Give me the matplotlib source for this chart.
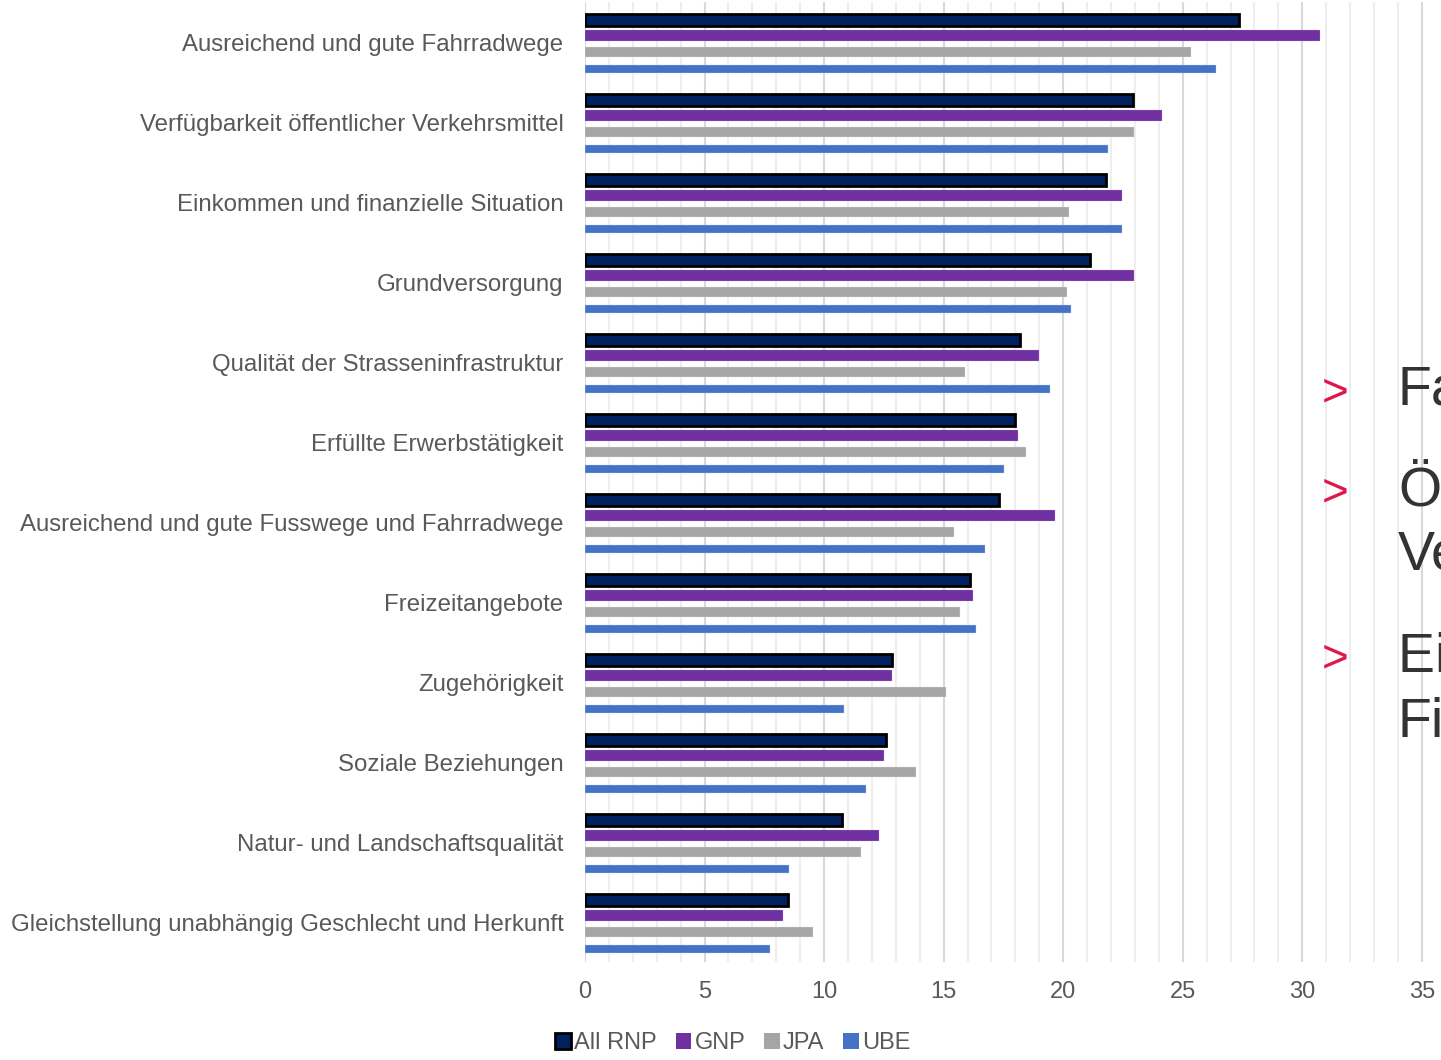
import matplotlib
matplotlib.use('Agg')
import matplotlib.pyplot as plt
from matplotlib.patches import Patch
import numpy as np

plt.rcParams['font.family'] = ['Liberation Sans', 'DejaVu Sans']

categories = [
    'Ausreichend und gute Fahrradwege',
    'Verfügbarkeit öffentlicher Verkehrsmittel',
    'Einkommen und finanzielle Situation',
    'Grundversorgung',
    'Qualität der Strasseninfrastruktur',
    'Erfüllte Erwerbstätigkeit',
    'Ausreichend und gute Fusswege und Fahrradwege',
    'Freizeitangebote',
    'Zugehörigkeit',
    'Soziale Beziehungen',
    'Natur- und Landschaftsqualität',
    'Gleichstellung unabhängig Geschlecht und Herkunft',
]
series_names = ['All RNP', 'GNP', 'JPA', 'UBE']
all_rnp = [27.35, 22.9, 21.8, 21.1, 18.2, 18.0, 17.3, 16.1, 12.85, 12.6, 10.75, 8.5]
gnp = [30.7, 24.1, 22.4, 22.9, 18.95, 18.05, 19.6, 16.2, 12.8, 12.45, 12.25, 8.25]
jpa = [25.3, 22.9, 20.2, 20.1, 15.85, 18.4, 15.4, 15.65, 15.05, 13.8, 11.5, 9.5]
ube = [26.35, 21.85, 22.4, 20.3, 19.4, 17.5, 16.7, 16.3, 10.8, 11.7, 8.5, 7.7]
# slide bullets lying over the chart (cut by the slide edge in the original)
side_points = ['Fahrradwege', 'Öffentlicher\nVerkehr', 'Einkommen und\nFinanzen']

values = [all_rnp, gnp, jpa, ube]
colors = ['#002060', '#7030A0', '#A5A5A5', '#4472C4']
edges = ['black', '#7A3FAA', '#AFAFAF', '#5A82C8']
lws = [2.0, 0.8, 0.8, 0.8]
offsets = [-0.275, -0.085, 0.115, 0.33]
heights = [0.14, 0.125, 0.115, 0.095]

fig = plt.figure(figsize=(14.41, 10.6), dpi=100)
ax = fig.add_axes([585 / 1441, 1 - 962 / 1060, 1 - 585 / 1441, 960 / 1060])

y = np.arange(len(categories))
for i, name in enumerate(series_names):
    ax.barh(y + offsets[i], values[i], height=heights[i], color=colors[i],
            edgecolor=edges[i], linewidth=lws[i], zorder=3, label=name)

ax.set_xlim(0, (1441 - 585) / 23.91)
ax.set_ylim(len(categories) - 0.5, -0.5)
ax.set_xticks(np.arange(0, 36, 5))
ax.set_xticks(np.arange(0, 36, 1), minor=True)
ax.grid(axis='x', which='minor', color='#EEEEEE', linewidth=1.5, zorder=0)
ax.grid(axis='x', which='major', color='#D9D9D9', linewidth=1.5, zorder=1)
ax.set_yticks(y)
ax.set_yticklabels(categories, fontsize=17.3, color='#595959')
ax.tick_params(axis='y', length=0, pad=15.5)
ax.tick_params(axis='x', which='both', length=0, pad=14, labelsize=17, labelcolor='#595959')
for s in ax.spines.values():
    s.set_visible(False)

handles = [Patch(facecolor=colors[i], edgecolor='black' if i == 0 else colors[i],
                 linewidth=lws[i] if i == 0 else 0) for i in range(4)]
fig.legend(handles, series_names, loc='center', bbox_to_anchor=(733 / 1441, 1 - 1043 / 1060),
           ncol=4, frameon=False, fontsize=17, handlelength=0.65, handleheight=0.65,
           handletextpad=0.15, columnspacing=0.8, labelcolor='#595959')

text_y = [393, 493, 660]
for t, yy in zip(side_points, text_y):
    fig.text(1335 / 1441, 1 - yy / 1060, '>', color='#E0184A', fontsize=33,
             ha='center', va='center')
    fig.text(1398 / 1441, 1 - (yy - 28) / 1060, t, color='#333333', fontsize=40,
             ha='left', va='top', linespacing=1.32)

fig.savefig('out.png', dpi=100)
